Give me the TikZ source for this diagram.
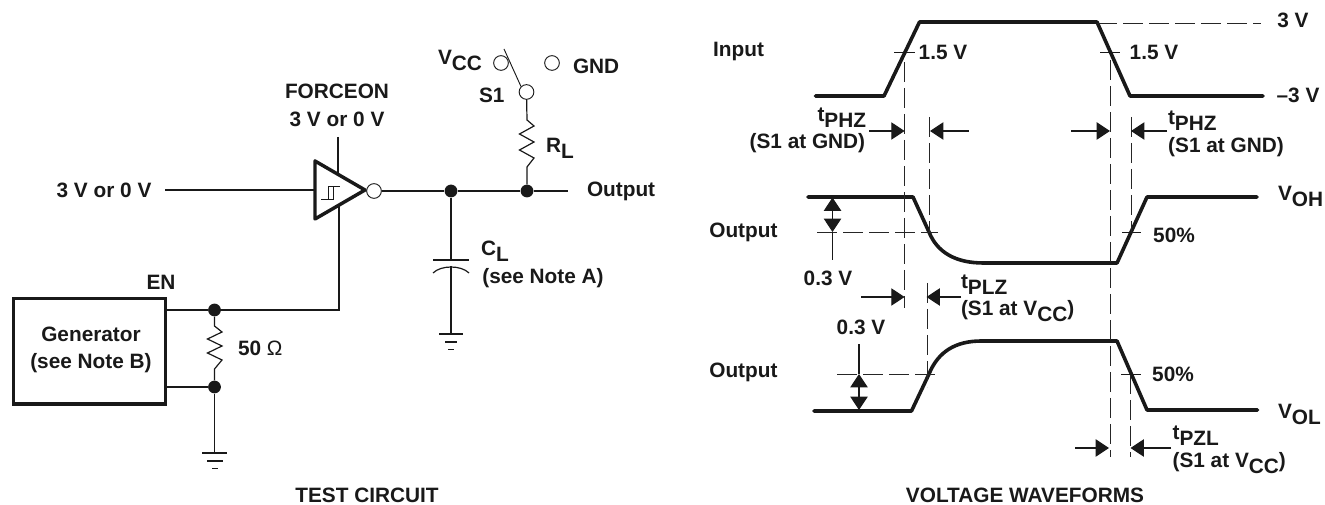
\documentclass[tikz,border=0pt]{standalone}
\usepackage{fontspec}
\setmainfont{Liberation Sans}
\newfontfamily\omegafont{Liberation Serif}
\usetikzlibrary{arrows.meta}
\newcommand{\subtxt}[2]{#1\raisebox{-4.5pt}{#2}}
\tikzset{
  lbl/.style={inner sep=0pt,outer sep=0pt,font=\fontsize{15.6}{17}\selectfont\bfseries,text=black!90,anchor=base},
  lblw/.style={lbl,anchor=base west},
  wire/.style={draw=black!90,line width=0.9pt},
  heavy/.style={draw=black!90,line width=2.6pt,line join=round},
  wave/.style={draw=black!90,line width=2.7pt,line join=round,line cap=round},
  dashln/.style={draw=black!85,line width=0.7pt,dash pattern=on 15pt off 4.5pt},
  thin tick/.style={draw=black!90,line width=0.7pt},
  dimarrow/.style={draw=black!90,line width=0.8pt,-{Triangle[length=10pt,width=13pt]}},
  dotnode/.style={circle,fill=black!90,minimum size=9.6pt,inner sep=0pt},
  term/.style={circle,draw=black!90,fill=white,line width=0.7pt,minimum size=11pt,inner sep=0pt},
}
\begin{document}
\begin{tikzpicture}[x=0.75pt,y=-0.75pt]
\useasboundingbox (0,0) rectangle (1325,505);
%% ---------- TEST CIRCUIT ----------
\coordinate (inL) at (165,190);
\coordinate (fTop) at (338,137);
\coordinate (fTri) at (338,174);
\coordinate (enTri) at (339,206);
\coordinate (enCorner) at (339,310);
\coordinate (outEnd) at (568,191);
\coordinate (tA) at (315,161);
\coordinate (tB) at (315,219);
\coordinate (tC) at (365,190);
\coordinate (inT) at (315,190);
\node[term] (bub) at (374,191) {};
\node[dotnode] (jC) at (451,191) {};
\node[dotnode] (jR) at (527,191) {};
\node[dotnode] (jEN) at (214.5,310) {};
\node[dotnode] (jG) at (214.5,387) {};
\node[term] (tV) at (501,63) {};
\node[term] (tG) at (552,63) {};
\node[term] (tS) at (526.5,92) {};
\node[draw=black!90,line width=2.4pt,minimum width=114pt,minimum height=79pt,inner sep=0pt,anchor=north west] (gen) at (12,297) {};
\draw[wire] (inL) -- (inT);
\draw[wire] (fTop) -- (fTri);
\draw[wire] (enTri) -- (enCorner) -- (jEN);
\draw[wire] (bub) -- (jC) -- (jR) -- (outEnd);
\path[heavy] (tA) -- (tB) -- (tC) -- cycle;
%% hysteresis symbol inside buffer
\draw[thin tick] (321,199) -- (333,199) -- (333,186) -- (340,186);
\draw[thin tick] (328,199) -- (328,186) -- (333,186);
%% generator wires
\coordinate (genA) at (166,310);
\coordinate (genB) at (166,387);
\draw[wire] (genA) -- (jEN);
\draw[wire] (genB) -- (jG);
%% 50 ohm resistor
\draw[wire] (jEN) -- (214.5,326) -- (222,332) -- (207.5,339) -- (222,346) -- (207.5,353) -- (222,360) -- (214.5,369) -- (jG);
%% generator ground
\coordinate (gnd1) at (214.5,453);
\draw[wire] (jG) -- (gnd1);
\draw[wire] (202,453) -- (227,453) (207,461) -- (223,461) (212,468.5) -- (218,468.5);
%% RL
\draw[wire] (tS) -- (527,120) -- (534,126) -- (519.5,134) -- (534,142) -- (519.5,150) -- (534,158) -- (527,167) -- (jR);
%% switch
\coordinate (swT) at (504,49);
\draw[thin tick] (swT) -- (tS.north west);
%% CL
\coordinate (capT) at (451,260);
\coordinate (capB) at (451,266);
\coordinate (gnd2) at (451,334);
\draw[wire] (jC) -- (capT);
\draw[wire] (433,260) -- (469,260);
\draw[wire] (433,273) .. controls (441,265) and (461,265) .. (469,273);
\draw[wire] (capB) -- (gnd2);
\draw[wire] (439,334) -- (463,334) (445,342) -- (457,342) (448,349.5) -- (454,349.5);
%% labels
\node[lbl] (l3v) at (104,198) {3 V or 0 V};
\node[lbl] (lFo) at (337,99) {FORCEON};
\node[lbl] (lFv) at (337,127) {3 V or 0 V};
\node[lblw] (lOut) at (587,197) {Output};
\node[lblw] (lVcc) at (438,65) {\subtxt{V}{CC}};
\node[lblw] (lGnd) at (573,74) {GND};
\node[lblw] (lS1) at (479,103) {S1};
\node[lblw] (lRL) at (546,153) {\subtxt{R}{L}};
\node[lblw] (lCL) at (481,256) {\subtxt{C}{L}};
\node[lbl] (lNA) at (543,284) {(see Note A)};
\node[lbl] (lEN) at (161,290) {EN};
\node[lbl] (lG1) at (91,342) {Generator};
\node[lbl] (lG2) at (91,369) {(see Note B)};
\node[lblw] (l50) at (238,356) {50 {\omegafont\normalfont\fontsize{15.6}{17}\selectfont Ω}};
\node[lbl] (lTC) at (367,503) {TEST CIRCUIT};
%% ---------- WAVEFORMS ----------
\draw[wave] (815.5,96) -- (884,96) -- (919.5,22) -- (1097,22) -- (1130,96) -- (1263,96);
\draw[wave] (808,197) -- (913,197) -- (929,232) .. controls (937,252) and (955,263) .. (983.5,263) -- (1117,263) -- (1147,197) -- (1257,197);
\draw[wave] (814,411) -- (911.5,411) -- (929,374) .. controls (938,352) and (955,341) .. (981.5,341) -- (1117,341) -- (1147,410) -- (1257.5,410);
%% dashed guides
\draw[dashln] (1097,23) -- (1261,23);
\draw[dashln] (904.6,62) -- (904.6,308);
\draw[dashln] (929,117) -- (929,232);
\draw[dashln] (1110,60) -- (1110,457);
\draw[dashln] (1131,117) -- (1131,232);
\draw[dashln] (927,283) -- (927,387);
\draw[dashln] (1130,374) -- (1130,457);
\draw[dashln] (817,232) -- (938,232);
\draw[dashln] (837,374) -- (937,374);
%% ticks
\draw[thin tick] (894,52) -- (915,52) (1100,52) -- (1120,52) (1122,232) -- (1141,232) (1121,374) -- (1141,374);
%% dimension arrows, row 1
\coordinate (a1) at (869,131); \coordinate (a1t) at (904.6,131);
\coordinate (a2) at (968.5,131); \coordinate (a2t) at (930,131);
\coordinate (a3) at (1071,131); \coordinate (a3t) at (1110,131);
\coordinate (a4) at (1167,131); \coordinate (a4t) at (1131,131);
\draw[dimarrow] (a1) -- (a1t);
\draw[dimarrow] (a2) -- (a2t);
\draw[dimarrow] (a3) -- (a3t);
\draw[dimarrow] (a4) -- (a4t);
%% row 2
\coordinate (b1) at (861,297); \coordinate (b1t) at (904.6,297);
\coordinate (b2) at (961,297); \coordinate (b2t) at (926.5,297);
\draw[dimarrow] (b1) -- (b1t);
\draw[dimarrow] (b2) -- (b2t);
%% row 3
\coordinate (c1) at (1075,448); \coordinate (c1t) at (1109,448);
\coordinate (c2) at (1171,448); \coordinate (c2t) at (1130.5,448);
\draw[dimarrow] (c1) -- (c1t);
\draw[dimarrow] (c2) -- (c2t);
%% 0.3 V arrows
\coordinate (d1) at (832.5,197.5); \coordinate (d2) at (832.5,232); \coordinate (d3) at (832.5,260); \coordinate (d4) at (832.5,215);
\draw[dimarrow] (d4) -- (d1);
\draw[dimarrow] (d4) -- (d2);
\draw[wire] (d2) -- (d3);
\coordinate (e1) at (859,374); \coordinate (e2) at (859,410); \coordinate (e3) at (859,344); \coordinate (e4) at (859,391);
\draw[dimarrow] (e4) -- (e1);
\draw[dimarrow] (e4) -- (e2);
\draw[wire] (e1) -- (e3);
%% labels
\node[lbl] (rIn) at (738.6,57) {Input};
\node[lbl] (r3v) at (1293,28) {3 V};
\node[lbl] (rm3) at (1298,103) {–3 V};
\node[lbl] (r15a) at (943,60) {1.5 V};
\node[lbl] (r15b) at (1154,60) {1.5 V};
\node[lblw] (rt1) at (817.5,122) {\subtxt{t}{PHZ}};
\node[lbl] (rs1) at (807.4,149) {(S1 at GND)};
\node[lblw] (rt2) at (1168,125) {\subtxt{t}{PHZ}};
\node[lbl] (rs2) at (1226,153) {(S1 at GND)};
\node[lbl] (rOa) at (743.4,238) {Output};
\node[lblw] (rVoh) at (1278,201) {\subtxt{V}{OH}};
\node[lbl] (r50a) at (1174,243) {50\%};
\node[lbl] (r03a) at (828,286) {0.3 V};
\node[lblw] (rt3) at (961,289) {\subtxt{t}{PLZ}};
\node[lblw] (rs3) at (961,316) {(S1 at \subtxt{V}{CC})};
\node[lbl] (r03b) at (861,335) {0.3 V};
\node[lbl] (rOb) at (743.4,378) {Output};
\node[lbl] (r50b) at (1173,382) {50\%};
\node[lblw] (rVol) at (1278,419) {\subtxt{V}{OL}};
\node[lblw] (rt4) at (1172.6,440) {\subtxt{t}{PZL}};
\node[lblw] (rs4) at (1172.6,468) {(S1 at \subtxt{V}{CC})};
\node[lbl] (rVW) at (1025,503) {VOLTAGE WAVEFORMS};
\end{tikzpicture}
\end{document}
